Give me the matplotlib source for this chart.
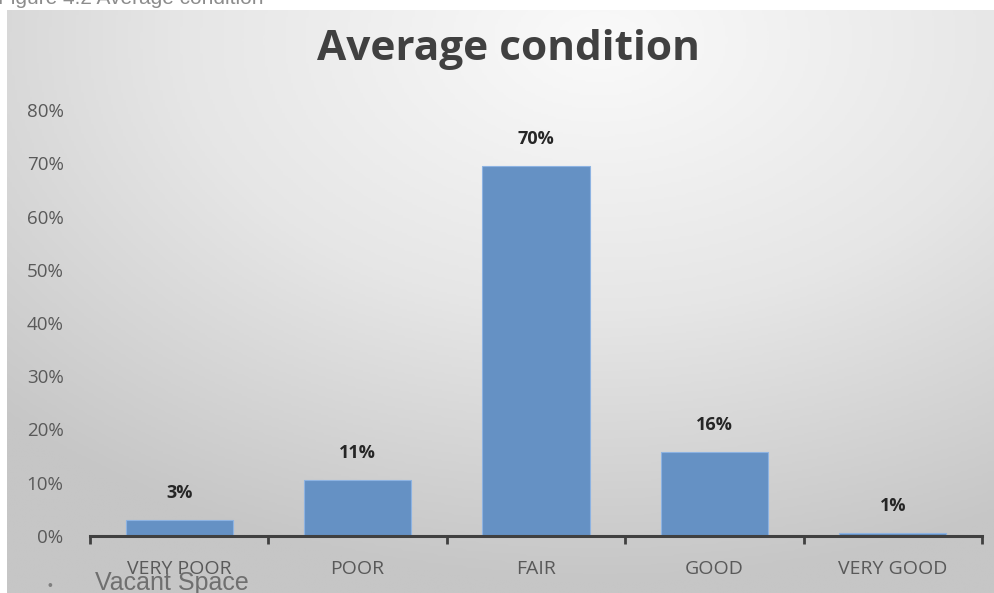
import numpy as np
import matplotlib.pyplot as plt
from matplotlib.colors import LinearSegmentedColormap

# data
categories = ['VERY POOR', 'POOR', 'FAIR', 'GOOD', 'VERY GOOD']
values = [0.03, 0.105, 0.695, 0.157, 0.006]
labels = ['3%', '11%', '70%', '16%', '1%']
yticks = [0, 0.1, 0.2, 0.3, 0.4, 0.5, 0.6, 0.7, 0.8]

W, H = 995, 593
fig = plt.figure(figsize=(W / 100, H / 100), dpi=100)
fig.patch.set_facecolor('white')

# radial gradient background of chart area
bg = fig.add_axes([7 / W, 0, 988 / W, 583 / H])
bg.set_axis_off()
xx, yy = np.meshgrid(np.linspace(0, 1, 400), np.linspace(0, 1, 240))
r = np.sqrt(((xx - 0.6) / 1.0) ** 2 + ((yy - 0.05) / 1.1) ** 2)
r = np.clip(r / 0.85, 0, 1)
cmap = LinearSegmentedColormap.from_list('bg', ['#fafafa', '#e6e6e6', '#c6c6c6'])
bg.imshow(r, cmap=cmap, aspect='auto', extent=[0, 1, 1, 0], vmin=0, vmax=1)
bg.set_xlim(0, 1)
bg.set_ylim(1, 0)

# main axes
ax = fig.add_axes([90 / W, 1 - 536 / H, (982 - 90) / W, (536 - 110) / H])
ax.patch.set_alpha(0)
x = np.arange(len(categories))
ax.bar(x, values, width=0.6, color='#6591c4', edgecolor='#8db3e2', linewidth=0.8, zorder=2)
for xi, v, lab in zip(x, values, labels):
    ax.annotate(lab, (xi, v), xytext=(0, 13), textcoords='offset points',
                ha='center', va='bottom', fontsize=13, fontweight='bold',
                color='#262626', family='Open Sans')

ax.set_xlim(-0.5, len(categories) - 0.5)
ax.set_ylim(0, 0.8)
ax.set_yticks(yticks)
ax.set_yticklabels([f'{int(round(t * 100))}%' for t in yticks],
                   fontsize=13.5, color='#595959', family='Open Sans')
ax.tick_params(axis='y', length=0, pad=19)
ax.set_xticks(x)
ax.set_xticklabels(categories, fontsize=14, color='#595959', family='Open Sans')
ax.set_xticks(np.arange(-0.5, len(categories)), minor=True)
ax.tick_params(axis='x', which='major', length=0, pad=17)
ax.tick_params(axis='x', which='minor', length=6, width=2, color='#404040', direction='out')
for s in ['top', 'right', 'left']:
    ax.spines[s].set_visible(False)
ax.spines['bottom'].set_color('#404040')
ax.spines['bottom'].set_linewidth(2.2)

fig.text(508 / W, 1 - 50 / H, 'Average condition', ha='center', va='center',
         fontsize=30.5, fontweight='bold', color='#404040', family='Open Sans')

# surrounding document text, clipped by the page edges as in the source
fig.text(-2 / W, 1 - (-1) / H, 'Figure 4.2 Average condition', ha='left', va='center',
         fontsize=15, color='#8c8c8c', family='Liberation Sans')
fig.text(48 / W, 1 - 586 / H, '\u2022', ha='left', va='center',
         fontsize=10, color='#7f7f7f', family='Liberation Sans')
fig.text(95 / W, 1 - 583 / H, 'Vacant Space', ha='left', va='center',
         fontsize=18, color='#6f6f6f', family='Liberation Sans')

fig.savefig('out.png', dpi=100)
